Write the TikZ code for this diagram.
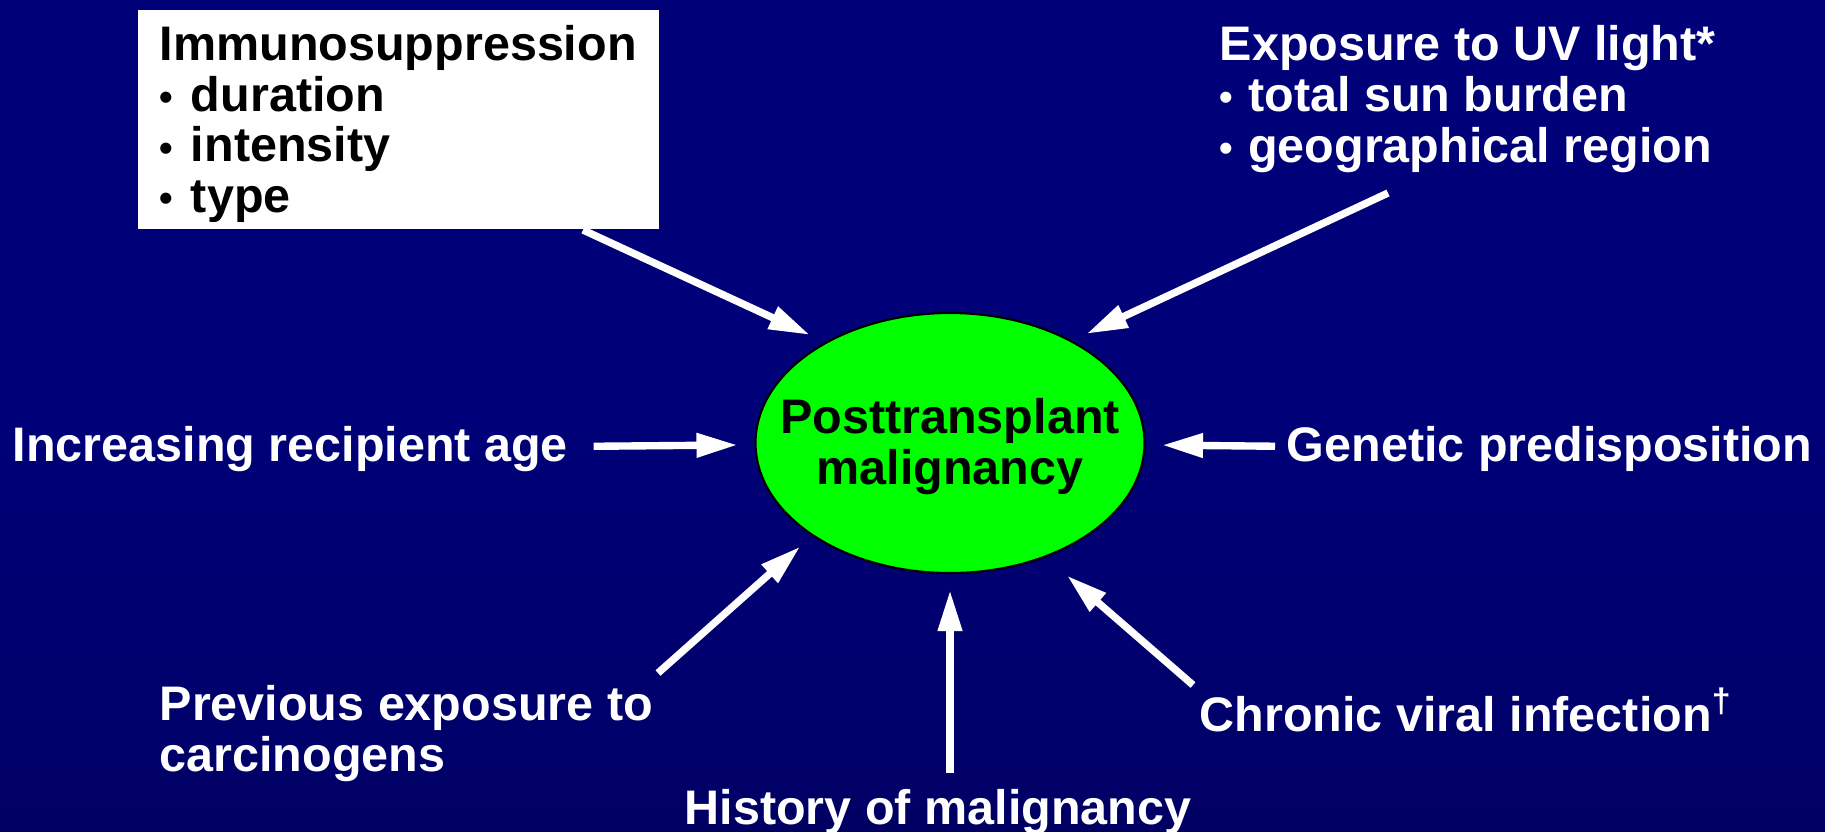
\documentclass[tikz,border=0pt]{standalone}
\usepackage{fontspec}
\setmainfont{Liberation Sans}
\usetikzlibrary{positioning,arrows.meta,shapes.geometric}
\definecolor{slidelow}{RGB}{0,0,42}
\definecolor{slidedusk}{RGB}{0,0,78}
\definecolor{slidemid}{RGB}{0,0,106}
\definecolor{slidehigh}{RGB}{0,0,120}
\definecolor{slidetop}{RGB}{0,0,92}
\definecolor{neon}{HTML}{00FF00}
\pgfdeclareverticalshading{slidebg}{100bp}{color(0bp)=(slidelow); color(12bp)=(slidedusk); color(30bp)=(slidemid); color(50bp)=(slidehigh); color(75bp)=(slidehigh); color(100bp)=(slidetop)}
\newcommand{\bul}{\raisebox{0.02em}{\scalebox{0.8}{•}}\hspace{0.03em}}

\begin{document}
\begin{tikzpicture}[
  lbl/.style={text=white, font=\fontsize{13.8}{14.4}\selectfont\bfseries, inner sep=0pt, align=left},
  blob/.style={ellipse, draw=black, line width=0.6pt, fill=neon, minimum width=3.89cm, minimum height=2.60cm, inner sep=0pt},
  inflow/.style={draw=white, line width=2.1pt, -{Triangle[length=0.41cm,width=0.23cm]}}]
\shade[shading=slidebg] (0,0) rectangle (18.25,-8.31);
\useasboundingbox (0,0) rectangle (18.25,-8.31);
\node[blob] (ptm) at (9.50,-4.43) {};
\node[lbl, text=black, align=center, yshift=-0.035cm] (ptmtext) at (ptm) {Posttransplant\\malignancy};
\node[lbl, text=black, fill=white, anchor=north west, text width=4.77cm, inner xsep=0.22cm, minimum height=2.19cm] (immuno) at (1.37,-0.09) {\rule{0pt}{0.45cm}Immunosuppression\\\bul{} duration\\\bul{} intensity\\\bul{} type};
\node[lbl, anchor=north west] (uv) at (12.19,-0.25) {Exposure to UV light*\\\bul{} total sun burden\\\bul{} geographical region};
\node[lbl, anchor=base west] (age) at (0.12,-4.615) {Increasing recipient age};
\node[lbl, anchor=base west] (gene) at (12.86,-4.615) {Genetic predisposition};
\node[lbl, anchor=north west] (prev) at (1.59,-6.85) {Previous exposure to\\carcinogens};
\node[lbl, anchor=base west] (hist) at (6.84,-8.24) {History of malignancy};
\node[lbl, anchor=base west] (viral) at (11.99,-7.31) {Chronic viral infection\textsuperscript{†}};
% arrow tails
\coordinate (immtail) at (5.83,-2.30);
\coordinate (uvtail) at (13.88,-1.93);
\coordinate (prevtail) at (6.58,-6.73);
\coordinate (histtail) at (9.50,-7.73);
\coordinate (viraltail) at (11.93,-6.85);
\draw[inflow, shorten >=0.17cm] (immtail) -- (ptm.141);
\draw[inflow, shorten >=0.16cm] (uvtail) -- (ptm.40);
\draw[inflow, shorten <=0.25cm, shorten >=0.17cm] (age) -- (ptm);
\draw[inflow, shorten <=0.11cm, shorten >=0.165cm] (gene) -- (ptm);
\draw[inflow, shorten >=0.16cm] (prevtail) -- (ptm.214.7);
\draw[inflow, shorten >=0.16cm] (histtail) -- (ptm.south);
\draw[inflow, shorten >=0.28cm] (viraltail) -- (ptm.-50.5);
\end{tikzpicture}
\end{document}
